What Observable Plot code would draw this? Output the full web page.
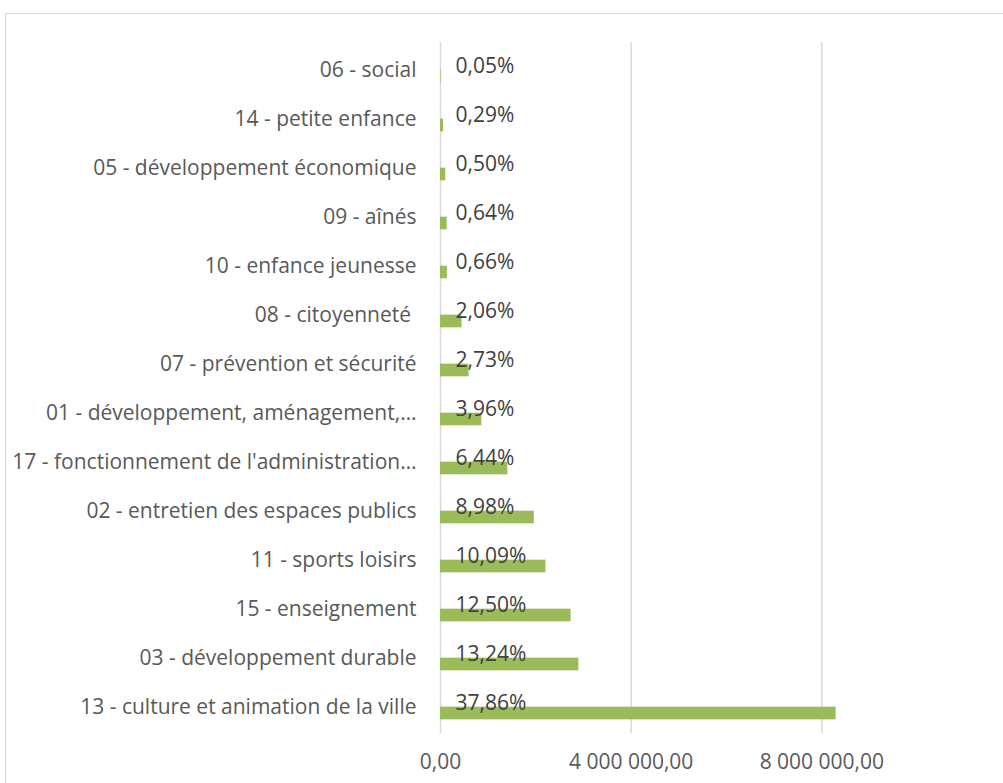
<!DOCTYPE html>
<html>
<head>
<meta charset="utf-8">
<script src="https://cdn.jsdelivr.net/npm/d3@7"></script>
<script src="https://cdn.jsdelivr.net/npm/@observablehq/plot@0.6"></script>
<style>
  html, body { margin: 0; padding: 0; background: #fff; }
  #wrap { position: relative; width: 1003px; height: 783px; overflow: hidden; }
  #frame { position: absolute; left: 5px; top: 13px; width: 1100px; height: 900px;
           border-left: 1.5px solid #d9d9d9; border-top: 1.5px solid #d9d9d9; }
  #chart { position: absolute; left: 0; top: 0; }
  #chart svg text { white-space: pre; }
</style>
</head>
<body>
<div id="wrap"><div id="frame"></div><div id="chart"></div></div>
<script>
const categories = [
  "06 - social",
  "14 - petite enfance",
  "05 - développement économique",
  "09 - aînés",
  "10 - enfance jeunesse",
  "08 - citoyenneté ",
  "07 - prévention et sécurité",
  "01 - développement, aménagement,…",
  "17 - fonctionnement de l'administration…",
  "02 - entretien des espaces publics",
  "11 - sports loisirs",
  "15 - enseignement",
  "03 - développement durable",
  "13 - culture et animation de la ville"
];
const amounts = [11000, 64000, 110000, 140000, 145000, 452000, 598000, 868000, 1412000, 1968000, 2212000, 2740000, 2902000, 8300000];
const percents = [0.05, 0.29, 0.50, 0.64, 0.66, 2.06, 2.73, 3.96, 6.44, 8.98, 10.09, 12.50, 13.24, 37.86];
const xTicks = [0, 4000000, 8000000];

const fr = d3.formatLocale({decimal: ",", thousands: " ", grouping: [3], currency: ["", " €"]});
const fmtAxis = fr.format(",.2f");
const fmtPct = fr.format(".2f");

const data = categories.map((c, i) => ({cat: c, value: amounts[i], pct: fmtPct(percents[i]) + "%"}));

const plotTop = 42, plotBottom = 733;
const bw = (plotBottom - plotTop) / categories.length;

const chart = Plot.plot({
  width: 1003,
  height: 783,
  marginLeft: 440,
  marginTop: plotTop,
  marginBottom: 783 - plotBottom,
  marginRight: 0,
  style: {fontFamily: "'Open Sans', sans-serif", fontSize: "21px", background: "transparent", overflow: "visible"},
  x: {domain: [0, 12000000], range: [440, 1012]},
  y: {domain: categories, range: [plotTop, plotBottom], padding: 0},
  marks: [
    Plot.gridX(xTicks, {stroke: "#d9d9d9", strokeOpacity: 1, strokeWidth: 1.5}),
    Plot.barX(data, {x: "value", y: "cat", fill: "#9bbb59", insetTop: bw / 2, insetBottom: bw / 2 - 13}),
    Plot.text(data, {x: 0, y: "cat", text: "pct", textAnchor: "start", dx: 15, dy: -3.6, fill: "#404040"}),
    Plot.axisX({ticks: xTicks, tickFormat: fmtAxis, tickSize: 0, tickPadding: 21, label: null, fill: "#595959"}),
    Plot.axisY({tickSize: 0, tickPadding: 24, label: null, fill: "#595959"})
  ]
});
document.getElementById("chart").appendChild(chart);
</script>
</body>
</html>
